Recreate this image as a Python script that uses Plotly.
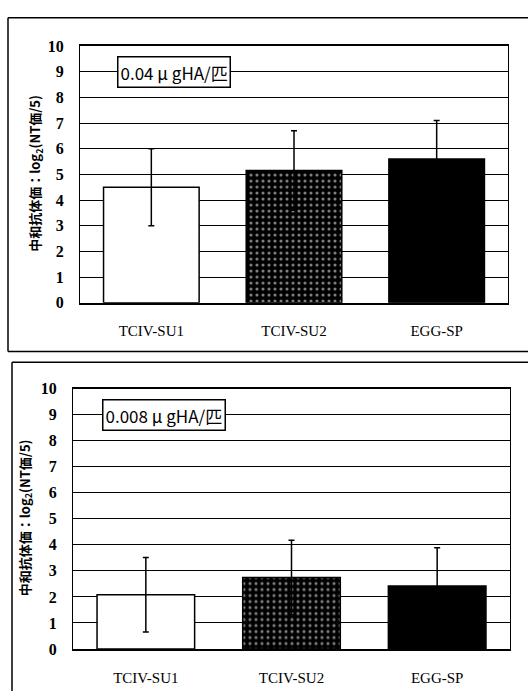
import plotly.graph_objects as go

categories = ["TCIV-SU1", "TCIV-SU2", "EGG-SP"]
top_values = [4.5, 5.15, 5.6]
top_errors = [1.5, 1.55, 1.5]
bottom_values = [2.08, 2.75, 2.42]
bottom_errors = [1.43, 1.43, 1.47]
top_label = "0.04 \u03bc gHA/匹"
bottom_label = "0.008 \u03bc gHA/匹"
y_title = "中和抗体価：log<sub>2</sub>(NT価/5)"
y_ticks = list(range(0, 11))

W, H = 528, 700

def px_x(v):
    return v / W

def px_y(v):
    return 1 - v / H

fills = ["white", "black", "black"]

fig = go.Figure()
for vals, errs, xa, ya in [(top_values, top_errors, "x", "y"), (bottom_values, bottom_errors, "x2", "y2")]:
    fig.add_trace(go.Bar(
        x=categories, y=vals, xaxis=xa, yaxis=ya,
        marker=dict(color=fills, line=dict(color="black", width=1.5), pattern=dict(
            shape=["", ".", ""], fgcolor="white", bgcolor="black", size=6, solidity=0.22)),
        error_y=dict(type="data", array=errs, visible=True, color="black", thickness=1.5, width=3),
        showlegend=False,
    ))

axis_font = dict(family="Liberation Serif", size=15, color="black")
ytick_font = dict(family="Liberation Serif", size=16, color="black", weight="bold")

common_x = dict(type="category", showgrid=False, showline=True, linecolor="black", linewidth=1.5,
                mirror=True, tickfont=axis_font, ticks="", ticklabelstandoff=14)
common_y = dict(range=[0, 10], tickvals=y_ticks, showgrid=True, gridcolor="black", gridwidth=1,
                showline=True, linecolor="black", linewidth=1, mirror=True, zeroline=False,
                tickfont=ytick_font, ticks="", ticklabelstandoff=12)

def frame_line(x0, y0, x1, y1):
    return dict(type="line", xref="paper", yref="paper", x0=px_x(x0), y0=px_y(y0), x1=px_x(x1), y1=px_y(y1),
                line=dict(color="black", width=1.5), layer="below")

fig.update_layout(
    width=W, height=H, margin=dict(l=0, r=0, t=0, b=0),
    paper_bgcolor="white", plot_bgcolor="white",
    bargap=0.33,
    xaxis=dict(domain=[px_x(80), px_x(508)], anchor="y", **common_x),
    yaxis=dict(domain=[px_y(302), px_y(39)], anchor="x", **common_y),
    xaxis2=dict(domain=[px_x(73), px_x(510)], anchor="y2", **common_x),
    yaxis2=dict(domain=[px_y(657), px_y(390)], anchor="x2", **common_y),
    shapes=[
        frame_line(8, 10, 528, 10),
        frame_line(8, 10, 8, 352),
        frame_line(8, 352, 528, 352),
        frame_line(12, 363, 528, 363),
        frame_line(12, 363, 12, 700),
    ],
    annotations=[
        dict(text=top_label, xref="paper", yref="y", x=px_x(173.5), y=9, xanchor="center", yanchor="middle",
             showarrow=False, bgcolor="white", bordercolor="black", borderwidth=1.5, borderpad=2,
             font=dict(family="Noto Sans CJK JP", size=17, color="black")),
        dict(text=bottom_label, xref="paper", yref="y2", x=px_x(163.5), y=9, xanchor="center", yanchor="middle",
             showarrow=False, bgcolor="white", bordercolor="black", borderwidth=1.5, borderpad=2,
             font=dict(family="Noto Sans CJK JP", size=17, color="black")),
        dict(text=y_title, xref="paper", yref="paper", x=px_x(36), y=px_y(170), textangle=-90,
             xanchor="center", yanchor="middle", showarrow=False,
             font=dict(family="Noto Sans CJK JP", size=13, color="black", weight="bold")),
        dict(text=y_title, xref="paper", yref="paper", x=px_x(25), y=px_y(523), textangle=-90,
             xanchor="center", yanchor="middle", showarrow=False,
             font=dict(family="Noto Sans CJK JP", size=13, color="black", weight="bold")),
    ],
)

fig.write_html("out.html")
